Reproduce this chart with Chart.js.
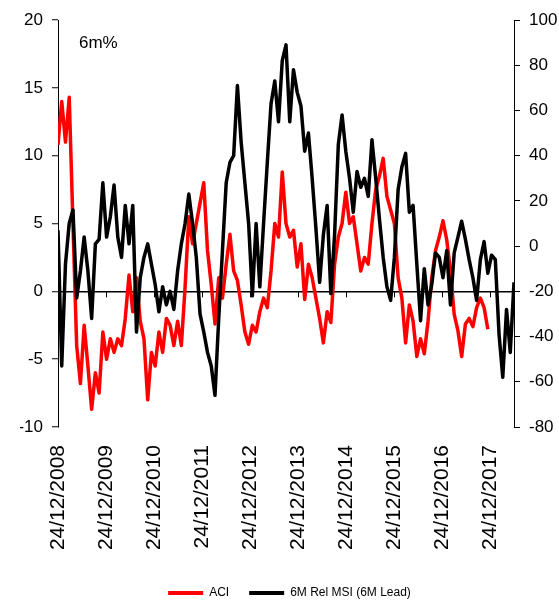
<!DOCTYPE html>
<html>
<head>
<meta charset="utf-8">
<script src="https://cdn.jsdelivr.net/npm/chart.js@4/dist/chart.umd.min.js"></script>
<style>
  html, body { margin: 0; padding: 0; background: #fff; }
  #wrap { width: 559px; height: 601px; }
</style>
</head>
<body>
<div id="wrap"><canvas id="chart" width="559" height="601"></canvas></div>
<script>
// tick labels on the date axis, one per year from 24/12/2008
const yearLabels = ["24/12/2008", "24/12/2009", "24/12/2010", "24/12/2011", "24/12/2012",
    "24/12/2013", "24/12/2014", "24/12/2015", "24/12/2016", "24/12/2017"];

// samples are evenly spaced, 122 steps across 9.5 years
const stepYears = 9.5 / 122;

// ACI, 6m% (left axis)
const aciValues = [
    10.8, 14.0, 11.0, 14.3, 5.0, -4.0, -6.8, -2.5, -5.5, -8.7,
    -6.0, -7.5, -3.0, -5.0, -3.5, -4.5, -3.5, -4.0, -2.0, 1.2,
    -1.5, 1.0, -2.2, -3.5, -8.0, -4.5, -5.5, -3.0, -4.5, -2.0,
    -2.5, -4.0, -2.2, -4.0, 0.3, 5.5, 3.5, 5.0, 6.5, 8.0,
    3.0, 0.5, -2.4, 1.0, -0.5, 2.0, 4.2, 1.5, 0.8, -1.0,
    -3.0, -3.9, -2.5, -3.0, -1.5, -0.5, -1.2, 1.5, 5.0, 4.0,
    8.8, 5.0, 4.0, 4.5, 1.8, 3.5, -0.6, 2.0, 1.0, -0.5,
    -2.0, -3.8, -1.5, -2.3, 2.0, 4.0, 5.0, 7.3, 5.0, 5.5,
    3.5, 1.5, 2.5, 2.0, 5.0, 7.5, 8.5, 9.8, 7.0, 6.0,
    5.0, 1.0, -0.5, -3.8, -1.0, -2.2, -4.8, -3.5, -4.6, -2.2,
    1.0, 3.0, 4.0, 5.2, 3.8, 1.5, -1.7, -2.9, -4.8, -2.4,
    -2.0, -2.6, -1.2, -0.5, -1.2, -2.8
];

// 6M Rel MSI (6M Lead), right axis
const msiValues = [
    7, -53, -8, 10, 16, -23, -11, 4, -11, -32,
    1, 3, 28, 4, 13, 27, 4, -5, 18, 1,
    18, -38, -14, -5, 1, -8, -17, -29, -18, -26,
    -20, -28, -11, 1, 10, 23, 10, -5, -30, -38,
    -47, -53, -66, -32, -2, 28, 37, 40, 71, 46,
    28, 10, -22, 10, -18, 10, 37, 63, 73, 55,
    82, 89, 55, 78, 68, 62, 42, 50, 30, 8,
    -16, 5, 18, -21, 5, 45, 58, 42, 30, 15,
    33, 26, 30, 22, 47, 30, 12, -5, -18, -24,
    -5, 25, 35, 41, 15, 18, -8, -33, -10, -26,
    -17, -3, -5, -14, -2, -26, -3, 4, 11, 3,
    -6, -14, -24, -6, 2, -12, -4, -6, -39, -58,
    -28, -47, -16
];

const FONT = "'Liberation Sans', Arial, sans-serif";

function toPoints(vals) {
    return vals.map((v, i) => ({ x: i * stepYears, y: v }));
}

// "6m%" caption and the small year ticks sitting on the zero line
const extras = {
    id: "extras",
    beforeDatasetsDraw(chart) {
        const { ctx, scales } = chart;
        const y0 = scales.y.getPixelForValue(0);
        ctx.save();
        ctx.strokeStyle = "#000";
        ctx.lineWidth = 1;
        scales.x.ticks.forEach(t => {
            const px = Math.round(scales.x.getPixelForValue(t.value)) + 0.5;
            ctx.beginPath();
            ctx.moveTo(px, y0);
            ctx.lineTo(px, y0 + 6);
            ctx.stroke();
        });
        ctx.restore();
    },
    afterDraw(chart) {
        const { ctx, chartArea } = chart;
        ctx.save();
        ctx.fillStyle = "#000";
        ctx.font = "17px " + FONT;
        ctx.textBaseline = "middle";
        ctx.fillText("6m%", chartArea.left + 21, chartArea.top + 23);
        ctx.restore();
    }
};

new Chart(document.getElementById("chart"), {
    type: "line",
    data: {
        datasets: [
            {
                label: "ACI",
                data: toPoints(aciValues),
                yAxisID: "y",
                borderColor: "#FF0000",
                backgroundColor: "#FF0000",
                borderWidth: 3.5,
                borderJoinStyle: "round",
                pointRadius: 0,
                order: 1
            },
            {
                label: "6M Rel MSI (6M Lead)",
                data: toPoints(msiValues),
                yAxisID: "y1",
                borderColor: "#000000",
                backgroundColor: "#000000",
                borderWidth: 3.5,
                borderJoinStyle: "round",
                pointRadius: 0,
                order: 0
            }
        ]
    },
    options: {
        responsive: false,
        animation: false,
        layout: { padding: { top: 20, left: 20, right: 0, bottom: -8 } },
        plugins: {
            tooltip: { enabled: false },
            legend: {
                position: "bottom",
                labels: {
                    color: "#000",
                    font: { family: FONT, size: 12 },
                    boxWidth: 35,
                    boxHeight: 4,
                    padding: 20,
                    sort: (a, b) => a.datasetIndex - b.datasetIndex,
                    generateLabels: chart => Chart.defaults.plugins.legend.labels
                        .generateLabels(chart)
                        .map(item => ({ ...item, lineWidth: 0, fillStyle: item.strokeStyle }))
                }
            }
        },
        scales: {
            x: {
                type: "linear",
                min: 0,
                max: 9.5,
                border: { display: false },
                grid: { display: false, drawTicks: false },
                ticks: {
                    stepSize: 1,
                    includeBounds: false,
                    autoSkip: false,
                    maxRotation: 90,
                    minRotation: 90,
                    padding: 18,
                    color: "#000",
                    font: { family: FONT, size: 21 },
                    callback: v => Number.isInteger(v) ? yearLabels[v] : ""
                },
                afterFit: s => { s.height = 140; }
            },
            y: {
                position: "left",
                min: -10,
                max: 20,
                border: { display: true, color: "#000", width: 1 },
                grid: {
                    color: c => c.tick.value === 0 ? "#000" : "rgba(0,0,0,0)",
                    lineWidth: 1.5,
                    tickColor: "#000",
                    tickWidth: 1,
                    tickLength: 6
                },
                ticks: {
                    stepSize: 5,
                    padding: 9,
                    color: "#000",
                    font: { family: FONT, size: 17 }
                },
                afterFit: s => { s.width = 38; }
            },
            y1: {
                position: "right",
                min: -80,
                max: 100,
                border: { display: true, color: "#000", width: 1 },
                grid: {
                    drawOnChartArea: false,
                    tickColor: "#000",
                    tickWidth: 1,
                    tickLength: 6
                },
                ticks: {
                    stepSize: 20,
                    padding: 9,
                    color: "#000",
                    font: { family: FONT, size: 17 }
                },
                afterFit: s => { s.width = 45; }
            }
        }
    },
    plugins: [extras]
});
</script>
</body>
</html>
